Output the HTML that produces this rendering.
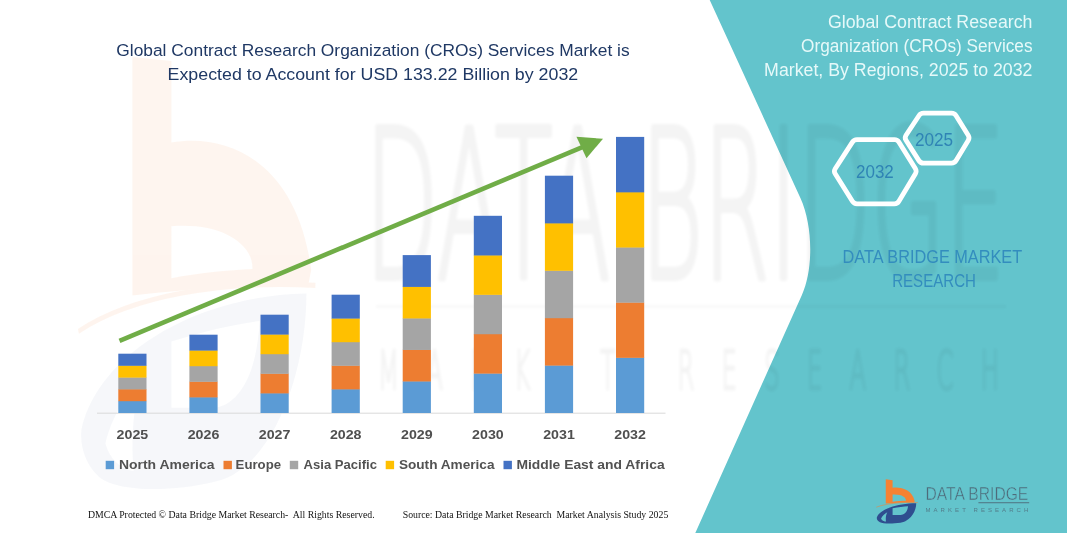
<!DOCTYPE html>
<html lang="en">
<head>
<meta charset="utf-8">
<title>Global Contract Research Organization (CROs) Services Market</title>
<style>
html,body{margin:0;padding:0;background:#fff;}
body{width:1067px;height:533px;overflow:hidden;font-family:"Liberation Sans",sans-serif;}
svg{display:block;position:absolute;left:0;top:0;}
text{white-space:pre;}
.sans{font-family:"Liberation Sans",sans-serif;}
.serif{font-family:"Liberation Serif",serif;}
</style>
</head>
<body>
<svg width="1067" height="533" viewBox="0 0 1067 533">
  <rect width="1067" height="533" fill="#ffffff"/>

  <!-- watermark (left) -->
  <g id="wm-left" opacity="0.08" transform="translate(42.4,-10.4) scale(0.6,1.02)">
      <path fill-rule="evenodd" fill="#F58233" d="M150 66 L215 70 L215 150 C310 140 425 170 448 275 L443 290 C340 288 230 295 150 300 Z M215 232 L215 283 C260 278 310 275 350 274 C352 250 300 228 215 232 Z"/>
      <path fill="none" stroke="#F58233" stroke-width="5" d="M60 335 C150 300 300 285 455 290"/>
      <path fill-rule="evenodd" fill="#2F4E8F" fill-opacity="0.55" d="M65 432 C90 360 250 300 440 298 C440 380 380 470 290 482 C200 495 120 490 95 478 C75 468 62 450 65 432 Z M215 345 C270 335 320 328 362 325 C358 375 330 405 290 410 L215 410 Z M105 445 C115 420 140 395 165 383 C150 410 148 445 152 472 C130 470 112 460 105 445 Z"/>
  </g>

  <!-- teal panel -->
  <path id="panel" d="M709.7 0 L800.4 198 C812.9 225.3 813.6 269 801.9 295 L695.3 533 L1067 533 L1067 0 Z" fill="#63C4CC"/>

  <!-- watermark text -->
  <defs><filter id="soft" x="-5%" y="-5%" width="110%" height="110%"><feGaussianBlur stdDeviation="1.6"/></filter></defs>
  <g id="wm-text" fill="#000" stroke="#000" opacity="0.045" filter="url(#soft)" style="font-family:'DejaVu Sans','Liberation Sans',sans-serif;font-weight:200">
    <text x="365" y="278" font-size="206" stroke-width="6" stroke-linejoin="round" textLength="640" lengthAdjust="spacingAndGlyphs">DATA BRIDGE</text>
    <rect x="376" y="305.5" width="630" height="2" stroke="none"/>
    <g transform="translate(378,389) scale(0.45,1)"><text x="0" y="0" font-size="54" stroke-width="3" textLength="1380" lengthAdjust="spacing">MARKET RESEARCH</text></g>
  </g>

  <!-- chart -->
  <line x1="97" y1="413.2" x2="665.5" y2="413.2" stroke="#D9D9D9" stroke-width="1"/>
  <g id="bars">
  <rect x="118.3" y="400.90" width="28.2" height="12.10" fill="#5B9BD5"/>
<rect x="118.3" y="389.10" width="28.2" height="12.10" fill="#ED7D31"/>
<rect x="118.3" y="377.30" width="28.2" height="12.10" fill="#A5A5A5"/>
<rect x="118.3" y="365.50" width="28.2" height="12.10" fill="#FFC000"/>
<rect x="118.3" y="353.70" width="28.2" height="12.10" fill="#4472C4"/>
<rect x="189.4" y="397.10" width="28.2" height="15.90" fill="#5B9BD5"/>
<rect x="189.4" y="381.50" width="28.2" height="15.90" fill="#ED7D31"/>
<rect x="189.4" y="365.90" width="28.2" height="15.90" fill="#A5A5A5"/>
<rect x="189.4" y="350.30" width="28.2" height="15.90" fill="#FFC000"/>
<rect x="189.4" y="334.70" width="28.2" height="15.90" fill="#4472C4"/>
<rect x="260.5" y="393.10" width="28.2" height="19.90" fill="#5B9BD5"/>
<rect x="260.5" y="373.50" width="28.2" height="19.90" fill="#ED7D31"/>
<rect x="260.5" y="353.90" width="28.2" height="19.90" fill="#A5A5A5"/>
<rect x="260.5" y="334.30" width="28.2" height="19.90" fill="#FFC000"/>
<rect x="260.5" y="314.70" width="28.2" height="19.90" fill="#4472C4"/>
<rect x="331.6" y="389.10" width="28.2" height="23.90" fill="#5B9BD5"/>
<rect x="331.6" y="365.50" width="28.2" height="23.90" fill="#ED7D31"/>
<rect x="331.6" y="341.90" width="28.2" height="23.90" fill="#A5A5A5"/>
<rect x="331.6" y="318.30" width="28.2" height="23.90" fill="#FFC000"/>
<rect x="331.6" y="294.70" width="28.2" height="23.90" fill="#4472C4"/>
<rect x="402.7" y="381.18" width="28.2" height="31.82" fill="#5B9BD5"/>
<rect x="402.7" y="349.66" width="28.2" height="31.82" fill="#ED7D31"/>
<rect x="402.7" y="318.14" width="28.2" height="31.82" fill="#A5A5A5"/>
<rect x="402.7" y="286.62" width="28.2" height="31.82" fill="#FFC000"/>
<rect x="402.7" y="255.10" width="28.2" height="31.82" fill="#4472C4"/>
<rect x="473.8" y="373.32" width="28.2" height="39.68" fill="#5B9BD5"/>
<rect x="473.8" y="333.94" width="28.2" height="39.68" fill="#ED7D31"/>
<rect x="473.8" y="294.56" width="28.2" height="39.68" fill="#A5A5A5"/>
<rect x="473.8" y="255.18" width="28.2" height="39.68" fill="#FFC000"/>
<rect x="473.8" y="215.80" width="28.2" height="39.68" fill="#4472C4"/>
<rect x="544.9" y="365.30" width="28.2" height="47.70" fill="#5B9BD5"/>
<rect x="544.9" y="317.90" width="28.2" height="47.70" fill="#ED7D31"/>
<rect x="544.9" y="270.50" width="28.2" height="47.70" fill="#A5A5A5"/>
<rect x="544.9" y="223.10" width="28.2" height="47.70" fill="#FFC000"/>
<rect x="544.9" y="175.70" width="28.2" height="47.70" fill="#4472C4"/>
<rect x="616.0" y="357.54" width="28.2" height="55.46" fill="#5B9BD5"/>
<rect x="616.0" y="302.38" width="28.2" height="55.46" fill="#ED7D31"/>
<rect x="616.0" y="247.22" width="28.2" height="55.46" fill="#A5A5A5"/>
<rect x="616.0" y="192.06" width="28.2" height="55.46" fill="#FFC000"/>
<rect x="616.0" y="136.90" width="28.2" height="55.46" fill="#4472C4"/>
  </g>
  <line x1="119.5" y1="340.8" x2="583" y2="146.9" stroke="#70AD47" stroke-width="4.6"/>
  <polygon points="603,138.75 576.45,136.8 586.5,158.25" fill="#70AD47"/>

  <!-- left title -->
  <g class="sans" fill="#1F3864" font-size="16.8">
    <text x="116.3" y="55.9" textLength="513.3" lengthAdjust="spacingAndGlyphs">Global Contract Research Organization (CROs) Services Market is</text>
    <text x="167.6" y="80" textLength="410.6" lengthAdjust="spacingAndGlyphs">Expected to Account for USD 133.22 Billion by 2032</text>
  </g>

  <!-- year labels -->
  <g class="sans" fill="#4F4F4F" font-size="13.7" font-weight="700"><text x="132.4" y="439.2" text-anchor="middle" textLength="31.6" lengthAdjust="spacingAndGlyphs">2025</text><text x="203.5" y="439.2" text-anchor="middle" textLength="31.6" lengthAdjust="spacingAndGlyphs">2026</text><text x="274.6" y="439.2" text-anchor="middle" textLength="31.6" lengthAdjust="spacingAndGlyphs">2027</text><text x="345.7" y="439.2" text-anchor="middle" textLength="31.6" lengthAdjust="spacingAndGlyphs">2028</text><text x="416.8" y="439.2" text-anchor="middle" textLength="31.6" lengthAdjust="spacingAndGlyphs">2029</text><text x="487.9" y="439.2" text-anchor="middle" textLength="31.6" lengthAdjust="spacingAndGlyphs">2030</text><text x="559.0" y="439.2" text-anchor="middle" textLength="31.6" lengthAdjust="spacingAndGlyphs">2031</text><text x="630.1" y="439.2" text-anchor="middle" textLength="31.6" lengthAdjust="spacingAndGlyphs">2032</text></g>

  <!-- legend -->
  <g class="sans" fill="#525252" font-size="13" font-weight="700">
    <rect x="105.7" y="460.8" width="8.4" height="8.4" fill="#5B9BD5"/>
    <text x="118.9" y="468.6" textLength="95.6" lengthAdjust="spacingAndGlyphs">North America</text>
    <rect x="223.5" y="460.8" width="8.4" height="8.4" fill="#ED7D31"/>
    <text x="235.6" y="468.6" textLength="45.5" lengthAdjust="spacingAndGlyphs">Europe</text>
    <rect x="289.8" y="460.8" width="8.4" height="8.4" fill="#A5A5A5"/>
    <text x="303.6" y="468.6" textLength="73.4" lengthAdjust="spacingAndGlyphs">Asia Pacific</text>
    <rect x="385.7" y="460.8" width="8.4" height="8.4" fill="#FFC000"/>
    <text x="398.9" y="468.6" textLength="95.6" lengthAdjust="spacingAndGlyphs">South America</text>
    <rect x="503.5" y="460.8" width="8.4" height="8.4" fill="#4472C4"/>
    <text x="516.4" y="468.6" textLength="148.2" lengthAdjust="spacingAndGlyphs">Middle East and Africa</text>
  </g>

  <!-- footer -->
  <g class="serif" fill="#111" font-size="9.8">
    <text x="87.9" y="517.5" textLength="286.7" lengthAdjust="spacingAndGlyphs" xml:space="preserve">DMCA Protected © Data Bridge Market Research-  All Rights Reserved.</text>
    <text x="402.7" y="517.5" textLength="265.6" lengthAdjust="spacingAndGlyphs" xml:space="preserve">Source: Data Bridge Market Research  Market Analysis Study 2025</text>
  </g>

  <!-- right title -->
  <g class="sans" fill="#E6F9F9" font-size="17.5" text-anchor="end">
    <text x="1032.5" y="28.2" textLength="204.6" lengthAdjust="spacingAndGlyphs">Global Contract Research</text>
    <text x="1032.5" y="52" textLength="231.4" lengthAdjust="spacingAndGlyphs">Organization (CROs) Services</text>
    <text x="1032.5" y="75.8" textLength="268.4" lengthAdjust="spacingAndGlyphs">Market, By Regions, 2025 to 2032</text>
  </g>

  <!-- hexagons -->
  <g fill="none" stroke="#ffffff" stroke-width="4.8" stroke-linejoin="round">
    <path d="M835.2 173.7 Q833.6 171.2 835.2 168.7 L852.4 142.1 Q854.0 139.6 857.0 139.6 L894.4 139.6 Q897.4 139.6 899.0 142.2 L915.3 168.6 Q916.9 171.2 915.4 173.8 L898.9 201.2 Q897.4 203.8 894.4 203.8 L857.0 203.8 Q854.0 203.8 852.4 201.3 Z"/>
    <path d="M906.0 140.3 Q904.4 137.8 906.0 135.3 L918.9 115.7 Q920.5 113.2 923.5 113.2 L951.5 113.2 Q954.5 113.2 956.1 115.7 L968.2 135.3 Q969.8 137.8 968.2 140.4 L956.1 160.5 Q954.5 163.1 951.5 163.1 L923.5 163.1 Q920.5 163.1 918.9 160.6 Z"/>
  </g>
  <g class="sans" fill="#2F84B5" font-size="18.6" text-anchor="middle">
    <text x="874.9" y="178" textLength="37.8" lengthAdjust="spacingAndGlyphs">2032</text>
    <text x="934" y="145.8" textLength="38.2" lengthAdjust="spacingAndGlyphs">2025</text>
  </g>

  <!-- brand caption -->
  <g class="sans" fill="#338DBE" font-size="18.2">
    <text x="842.6" y="262.8" textLength="179.6" lengthAdjust="spacingAndGlyphs">DATA BRIDGE MARKET</text>
    <text x="892.2" y="286.5" textLength="83.7" lengthAdjust="spacingAndGlyphs">RESEARCH</text>
  </g>

  <!-- logo -->
  <g id="logo">
    <g transform="translate(870,472) scale(0.10507)">
      <path fill-rule="evenodd" fill="#F58233" d="M150 70 L215 78 L215 150 C300 140 400 170 425 275 L420 290 C330 288 230 295 150 300 Z M215 215 L215 283 C260 278 310 275 342 274 C345 240 300 210 215 215 Z"/>
      <path fill="none" stroke="#F58233" stroke-width="5" d="M60 335 C150 300 300 285 455 290"/>
      <path fill-rule="evenodd" fill="#2F4E8F" d="M65 432 C90 360 250 300 440 298 C440 380 380 470 290 482 C200 495 120 490 95 478 C75 468 62 450 65 432 Z M215 345 C270 335 320 328 362 325 C358 375 330 405 290 410 L215 410 Z M105 445 C115 420 140 395 165 383 C150 410 148 445 152 472 C130 470 112 460 105 445 Z"/>
    </g>
    <g class="sans" fill="#4E6B7A" stroke="#63C4CC" stroke-width="0.45">
      <text x="925.5" y="499.7" font-size="18.6" textLength="102.8" lengthAdjust="spacingAndGlyphs">DATA BRIDGE</text>
      <rect x="978.4" y="502.3" width="50.8" height="0.9" fill="#4E6B7A" stroke="none"/>
      <text x="925.5" y="511.8" font-size="6" stroke="none" fill-opacity="0.8" textLength="102.8" lengthAdjust="spacing">MARKET RESEARCH</text>
    </g>
  </g>
</svg>
</body>
</html>
